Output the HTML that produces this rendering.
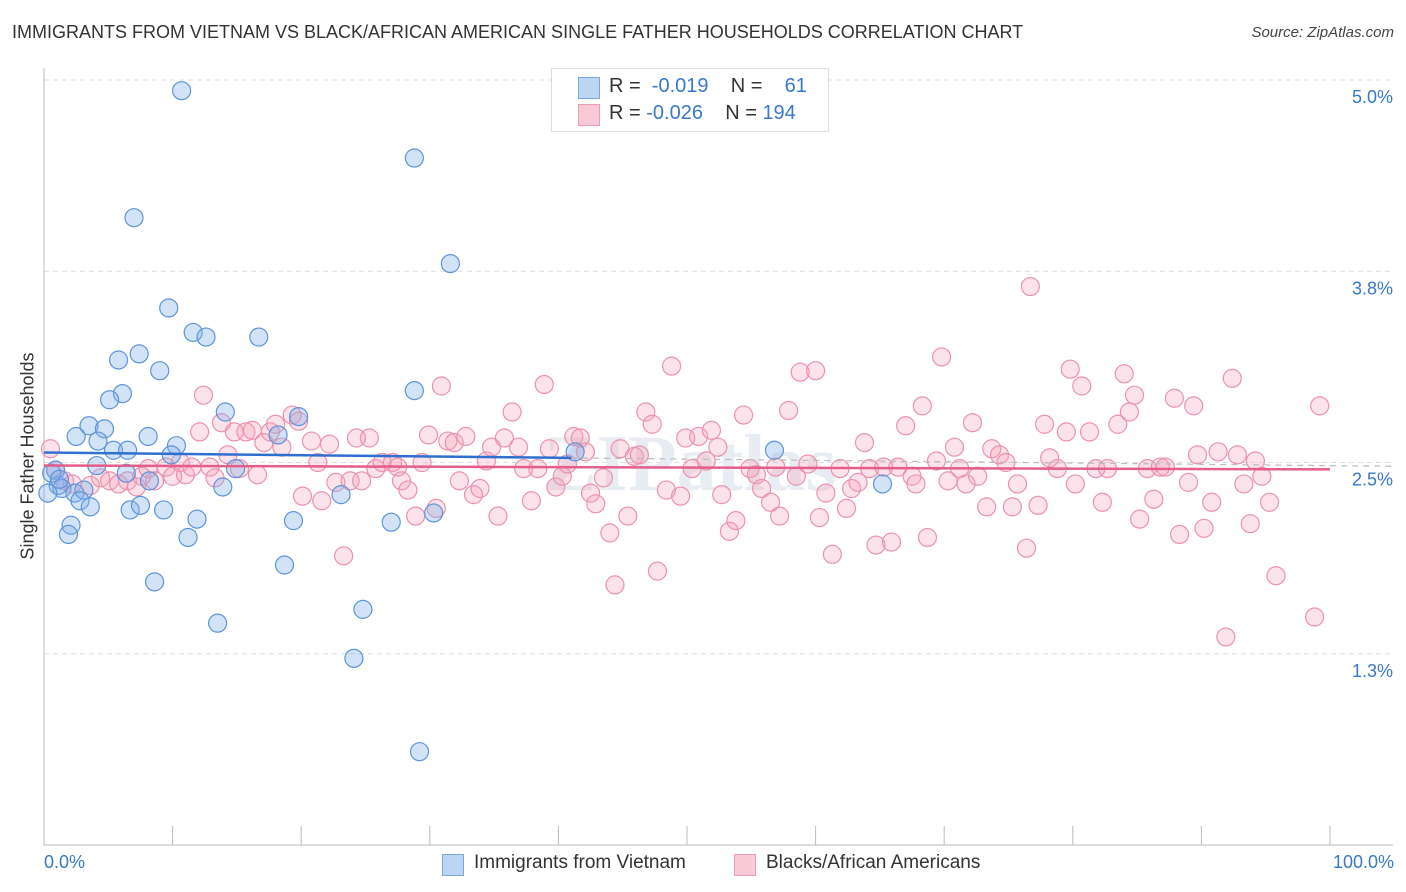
<!DOCTYPE html>
<html><head><meta charset="utf-8"><style>
body{margin:0;background:#fff;font-family:"Liberation Sans",sans-serif;}
#wrap{position:relative;width:1406px;height:892px;overflow:hidden;}
.t{position:absolute;white-space:nowrap;}
</style></head><body>
<div id="wrap">
<div class="t" style="left:12px;top:22px;font-size:18px;color:#333;">IMMIGRANTS FROM VIETNAM VS BLACK/AFRICAN AMERICAN SINGLE FATHER HOUSEHOLDS CORRELATION CHART</div>
<div class="t" style="right:12px;top:24px;font-size:15px;color:#444;font-style:italic;">Source: ZipAtlas.com</div>
<svg id="plot" width="1406" height="892" style="position:absolute;left:0;top:0"></svg>
<div class="t" style="left:28px;top:456px;font-size:18px;color:#333;transform:translate(-50%,-50%) rotate(-90deg);">Single Father Households</div>
<div class="t" style="left:44px;top:852px;font-size:18px;color:#3a78c9;">0.0%</div>
<div class="t" style="right:12px;top:852px;font-size:18px;color:#3a78c9;">100.0%</div>
<div style="position:absolute;left:551px;top:68px;width:276px;height:62px;border:1px solid #ddd;background:#fff;">
 <div style="position:absolute;left:26px;top:8px;width:20px;height:20px;background:#bcd5f3;border:1px solid #7aa7e0;"></div>
 <div class="t" style="left:57px;top:6px;font-size:20px;color:#333;">R = &nbsp;<span style="color:#3a78c9">-0.019</span>&nbsp;&nbsp;&nbsp; N = &nbsp;&nbsp;&nbsp;<span style="color:#3a78c9">61</span></div>
 <div style="position:absolute;left:26px;top:35px;width:20px;height:20px;background:#f9c9d7;border:1px solid #ec9cb4;"></div>
 <div class="t" style="left:57px;top:33px;font-size:20px;color:#333;">R = <span style="color:#3a78c9">-0.026</span>&nbsp;&nbsp;&nbsp; N = <span style="color:#3a78c9">194</span></div>
</div>
<div style="position:absolute;left:442px;top:852px;">
 <div style="position:absolute;left:0;top:2px;width:20px;height:20px;background:#bcd5f3;border:1px solid #7aa7e0;"></div>
 <div class="t" style="left:32px;top:0;font-size:19px;color:#333;">Immigrants from Vietnam</div>
 <div style="position:absolute;left:292px;top:2px;width:20px;height:20px;background:#f9c9d7;border:1px solid #ec9cb4;"></div>
 <div class="t" style="left:324px;top:0;font-size:19px;color:#333;">Blacks/African Americans</div>
</div>
</div>
<script>
const yTicks=[5.0,3.75,2.5,1.25];
const yTickLabels=["5.0%","3.8%","2.5%","1.3%"];
const xTicks=[0,10,20,30,40,50,60,70,80,90,100];
const blueX=[10.7,28.8,7.0,31.6,9.7,11.6,12.6,16.7,7.4,5.8,9.0,6.1,5.1,28.8,14.1,3.5,4.7,19.8,2.5,8.1,4.2,18.2,5.4,6.5,10.3,9.9,0.9,4.1,6.4,14.9,8.2,1.1,1.4,0.3,2.4,3.1,13.9,2.8,3.6,23.1,6.7,9.3,7.5,30.3,11.9,19.4,27.0,2.1,1.9,11.2,18.7,8.6,24.8,13.5,24.1,29.2,0.6,1.2,41.3,56.8,65.2];
const blueY=[4.93,4.49,4.10,3.80,3.51,3.35,3.32,3.32,3.21,3.17,3.10,2.95,2.91,2.97,2.83,2.74,2.72,2.80,2.67,2.67,2.64,2.68,2.58,2.58,2.61,2.55,2.45,2.48,2.43,2.46,2.38,2.35,2.33,2.30,2.30,2.32,2.34,2.25,2.21,2.29,2.19,2.19,2.22,2.17,2.13,2.12,2.11,2.09,2.03,2.01,1.83,1.72,1.54,1.45,1.22,0.61,2.43,2.39,2.57,2.58,2.36];
const pinkX=[0.5,0.9,1.6,2.2,3.6,4.4,5.1,5.8,6.5,7.2,7.6,8.1,8.6,9.5,10.0,10.6,11.0,11.5,12.1,12.4,12.9,13.3,13.8,14.3,14.8,15.2,15.7,16.2,16.6,17.1,17.6,18.0,18.5,19.3,19.8,20.1,20.8,21.3,21.6,22.2,22.7,23.3,23.8,24.3,24.7,25.3,25.8,26.3,27.1,27.5,27.8,28.3,28.9,29.4,29.9,30.5,30.9,31.4,31.9,32.3,32.8,33.4,33.9,34.4,34.8,35.3,35.8,36.4,36.9,37.3,37.9,38.4,38.9,39.3,39.8,40.3,40.7,41.2,41.7,42.1,42.5,42.9,43.5,44.0,44.4,44.8,45.4,45.9,46.3,46.8,47.3,47.7,48.4,48.8,49.5,49.9,50.4,50.9,51.5,51.9,52.4,52.7,53.3,53.8,54.4,54.9,55.4,55.8,56.5,56.9,57.2,57.9,58.5,58.8,59.4,60.0,60.3,60.8,61.3,61.9,62.4,62.8,63.3,63.8,64.2,64.7,65.3,65.9,66.4,67.0,67.5,67.8,68.3,68.7,69.4,69.8,70.3,70.8,71.2,71.7,72.2,72.6,73.3,73.7,74.3,74.8,75.3,75.7,76.4,76.7,77.3,77.8,78.2,78.8,79.5,79.8,80.2,80.7,81.3,81.8,82.3,82.7,83.5,84.0,84.4,84.8,85.2,85.8,86.3,86.8,87.2,87.9,88.3,89.0,89.4,89.7,90.2,90.8,91.3,91.9,92.4,92.8,93.3,93.8,94.2,94.7,95.3,95.8,98.8,99.2];
const pinkY=[2.59,2.45,2.38,2.36,2.35,2.40,2.38,2.36,2.38,2.34,2.41,2.46,2.38,2.47,2.41,2.50,2.42,2.47,2.70,2.94,2.47,2.40,2.76,2.55,2.70,2.46,2.70,2.71,2.42,2.63,2.70,2.75,2.60,2.81,2.77,2.28,2.64,2.50,2.25,2.62,2.37,1.89,2.38,2.66,2.38,2.66,2.46,2.50,2.50,2.47,2.38,2.32,2.15,2.50,2.68,2.20,3.00,2.64,2.63,2.38,2.67,2.29,2.33,2.51,2.60,2.15,2.66,2.83,2.60,2.46,2.25,2.46,3.01,2.59,2.34,2.41,2.49,2.67,2.66,2.57,2.30,2.23,2.40,2.04,1.70,2.59,2.15,2.54,2.55,2.83,2.75,1.79,2.32,3.13,2.28,2.66,2.46,2.67,2.51,2.71,2.60,2.29,2.05,2.12,2.81,2.46,2.42,2.33,2.24,2.47,2.15,2.84,2.41,3.09,2.49,3.10,2.14,2.30,1.90,2.46,2.20,2.33,2.37,2.63,2.46,1.96,2.47,1.98,2.47,2.74,2.41,2.36,2.87,2.01,2.51,3.19,2.38,2.60,2.46,2.36,2.76,2.41,2.21,2.59,2.55,2.50,2.21,2.36,1.94,3.65,2.22,2.75,2.53,2.46,2.70,3.11,2.36,3.00,2.70,2.46,2.24,2.46,2.75,3.08,2.83,2.94,2.13,2.46,2.26,2.47,2.47,2.92,2.03,2.37,2.87,2.55,2.07,2.24,2.57,1.36,3.05,2.55,2.36,2.10,2.51,2.41,2.24,1.76,1.49,2.87];
const blueTrend=[2.565,2.53];   // at x=0 and x=41
const pinkTrend=[2.48,2.455];   // at x=0 and x=100

const X0=44,X1=1330,YT=80,YB=845;
function sx(v){return X0+(X1-X0)*v/100;}
function sy(v){return YT+(YB-YT)*(5-v)/5;}
const NS="http://www.w3.org/2000/svg";
const svg=document.getElementById('plot');
function mk(tag,attrs,parent){const e=document.createElementNS(NS,tag);for(const k in attrs)e.setAttribute(k,attrs[k]);(parent||svg).appendChild(e);return e;}

yTicks.forEach((t,i)=>{
 const g=mk('line',{x1:X0,x2:1393,y1:sy(t),y2:sy(t),stroke:'#ddd','stroke-dasharray':'5,4','stroke-width':1});
 
 
 const tx=mk('text',{x:1393,y:sy(t)+23,'text-anchor':'end','font-size':18,fill:'#3a78c9','font-family':'Liberation Sans, sans-serif'});
 tx.textContent=yTickLabels[i];
 
 
});
const ya=mk('line',{x1:X0,x2:X0,y1:68,y2:YB,stroke:'#bbb','stroke-width':1});


const xa=mk('line',{x1:X0,x2:1393,y1:YB,y2:YB,stroke:'#bbb','stroke-width':1});


xTicks.forEach(t=>{
 const l=mk('line',{x1:sx(t),x2:sx(t),y1:826,y2:YB,stroke:'#bbb','stroke-width':1});
 
 
});
const wm=mk('text',{x:690,y:490,'text-anchor':'middle','font-size':80,fill:'#e8edf3','font-family':'Liberation Serif, serif','font-weight':'bold'});
wm.textContent='ZIPatlas';



pinkX.forEach((x,i)=>{
 const c=mk('circle',{cx:sx(x),cy:sy(pinkY[i]),r:9,fill:'rgba(244,160,185,0.3)',stroke:'#ec92ae','stroke-width':1.2});
 
 
});
blueX.forEach((x,i)=>{
 const c=mk('circle',{cx:sx(x),cy:sy(blueY[i]),r:9,fill:'rgba(130,175,232,0.35)',stroke:'#5d94d9','stroke-width':1.2});
 
 
});
const slope=(blueTrend[1]-blueTrend[0])/41;
const bd=mk('line',{x1:sx(41),y1:sy(blueTrend[1]),x2:1393,y2:sy(blueTrend[0]+slope*105),stroke:'#bbb','stroke-width':1.2,'stroke-dasharray':'6,5'});


const pl=mk('line',{x1:sx(0),y1:sy(pinkTrend[0]),x2:sx(100),y2:sy(pinkTrend[1]),stroke:'#e55d8a','stroke-width':2.5});


const bl=mk('line',{x1:sx(0),y1:sy(blueTrend[0]),x2:sx(41),y2:sy(blueTrend[1]),stroke:'#2f6fd0','stroke-width':2.5});


</script>
</body></html>
